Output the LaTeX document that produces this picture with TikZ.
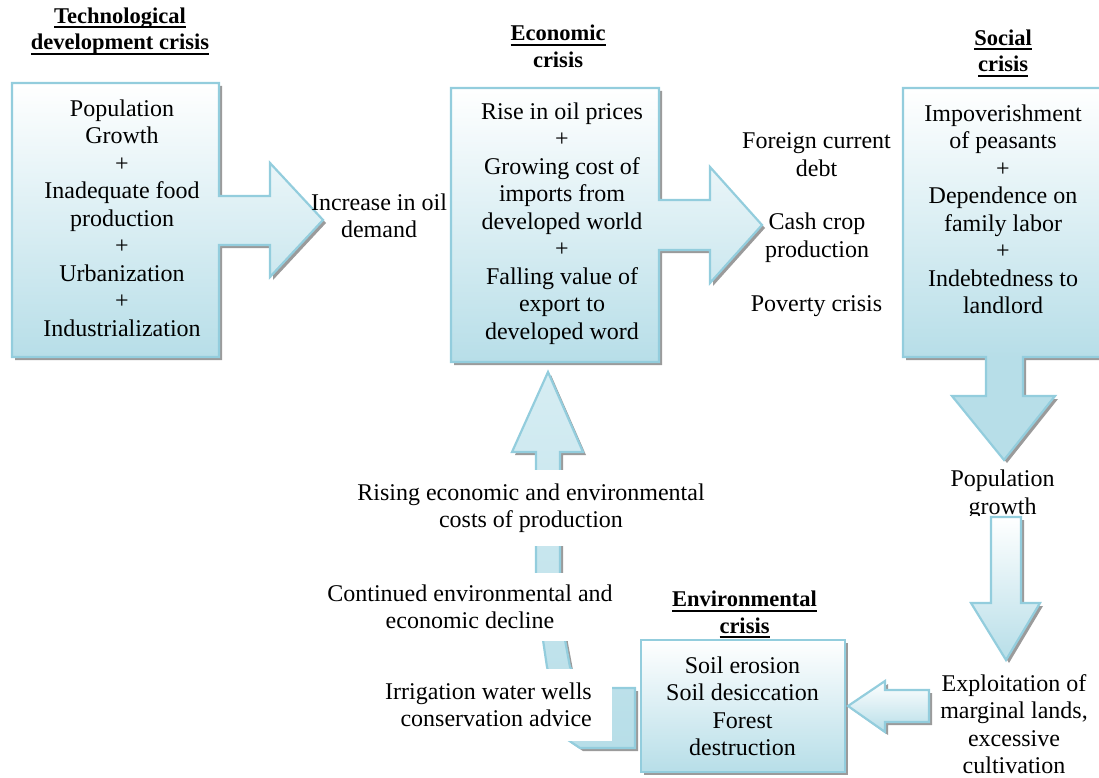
\documentclass[tikz,border=0pt]{standalone}
\usepackage{fontspec}
\setmainfont{Liberation Serif}
\definecolor{bord}{RGB}{147,205,221}
\definecolor{aqua}{RGB}{183,222,232}
\definecolor{aqlight}{RGB}{214,237,243}
\definecolor{shd}{RGB}{155,155,155}
\newcommand\myul[1]{\setbox0\hbox{#1}\rlap{\rule[-5pt]{\wd0}{1.8pt}}\box0}
\def\techpath{(12,83) -- (219,83) -- (219,196) -- (270,196) -- (270,163) -- (323,220) -- (270,277) -- (270,245) -- (219,245) -- (219,357) -- (12,357) -- cycle}
\def\econpath{(451,88) -- (659,88) -- (659,200) -- (710,200) -- (710,167) -- (762,225) -- (710,283) -- (710,250) -- (659,250) -- (659,362) -- (451,362) -- cycle}
\def\socpath{(903,88) -- (1110,88) -- (1110,357) -- (1023,357) -- (1023,396) -- (1055,396) -- (1004,460) -- (952,396) -- (986,396) -- (986,357) -- (903,357) -- cycle}
\def\bandpath{(548,372) -- (583,452) -- (560,452) -- (560,575) -- (565,640) -- (570,667) -- (585,688) -- (635,688) -- (635,748) -- (580,748) -- (568,740) -- (547,667) -- (543,640) -- (536,575) -- (536,452) -- (512,452) -- cycle}
\def\envpath{(641,640) rectangle (845,772)}
\def\downpath{(991,517) -- (1021,517) -- (1021,603) -- (1040,603) -- (1006,660) -- (971,603) -- (991,603) -- cycle}
\def\leftpath{(929,690) -- (929,722) -- (885,722) -- (885,732) -- (848,706) -- (885,681) -- (885,690) -- cycle}
\begin{document}
\begin{tikzpicture}[x=1pt,y=-1pt,
  blk/.style={draw=bord, line width=2.2pt, line join=miter, top color=white, bottom color=aqua},
  body/.style={font=\fontsize{24}{27.5}\selectfont, align=center, inner sep=0pt},
  ttl/.style={font=\fontsize{22.5}{26.5}\selectfont\bfseries, align=center, inner sep=0pt},
  mask/.style={fill=white}]
\clip (0,0) rectangle (1099,778);
% shadows
\begin{scope}[shift={(3,3)}]
  \fill[shd] \techpath;
  \fill[shd] \econpath;
  \fill[shd] \socpath;
  \fill[shd] \bandpath;
  \fill[shd] \envpath;
  \fill[shd] \downpath;
  \fill[shd] \leftpath;
\end{scope}
% main shapes
\path[blk] \techpath;
\path[blk] \econpath;
\fill[aqua] \socpath;
\shade[top color=white, bottom color=aqua] (903,88) rectangle (1110,357);
\draw[bord, line width=2.2pt, line join=miter] \socpath;
\path[blk, top color=aqlight] \bandpath;
\path[blk] \envpath;
% titles
\node[ttl] (t1) at (120,31) {\myul{Technological}\\\myul{development crisis}};
\node[ttl] (t2) at (558,46.5) {\myul{Economic}\\crisis};
\node[ttl] (t3) at (1003,53) {\myul{Social}\\\myul{crisis}};
\node[ttl] (t4) at (744.5,614.5) {\myul{Environmental}\\\myul{crisis}};
% box texts
\node[body] (b1) at (122,218) {Population\\Growth\\+\\Inadequate food\\production\\+\\Urbanization\\+\\Industrialization};
\node[body] (b2) at (562,223.5) {Rise in oil prices\\+\\Growing cost of\\imports from\\developed world\\+\\Falling value of\\export to\\developed word};
\node[body] (b3) at (1003,209.5) {Impoverishment\\of peasants\\+\\Dependence on\\family labor\\+\\Indebtedness to\\landlord};
\node[body] (b4) at (742.5,706.5) {Soil erosion\\Soil desiccation\\Forest\\destruction};
% free labels
\node[body] (l1) at (379,216) {Increase in oil\\demand};
\node[body] (l2) at (816.5,154.5) {Foreign current\\debt};
\node[body] (l3) at (817,237.5) {Cash crop\\production};
\node[body] (l4) at (816.5,306) {Poverty crisis};
\begin{scope}
  \clip (900,455) rectangle (1099,515);
  \node[body] (l5) at (1002.5,495) {Population\\growth};
\end{scope}
\node[body] (l6) at (1014,724) {Exploitation of\\marginal lands,\\excessive\\cultivation};
% labels on the return band (white backgrounds hide parts of it)
\node[body, mask, minimum height=76pt] (m1) at (531,508) {Rising economic and environmental\\costs of production};
\node[body, mask, minimum height=68pt] (m2) at (470,607) {Continued environmental and\\economic decline};
\node[body, mask, minimum height=72pt, inner xsep=20pt, align=right, anchor=east] (m3) at (612,705) {Irrigation water wells\\conservation advice};
% lower arrows
\path[blk] \downpath;
\path[blk] \leftpath;
\end{tikzpicture}
\end{document}
